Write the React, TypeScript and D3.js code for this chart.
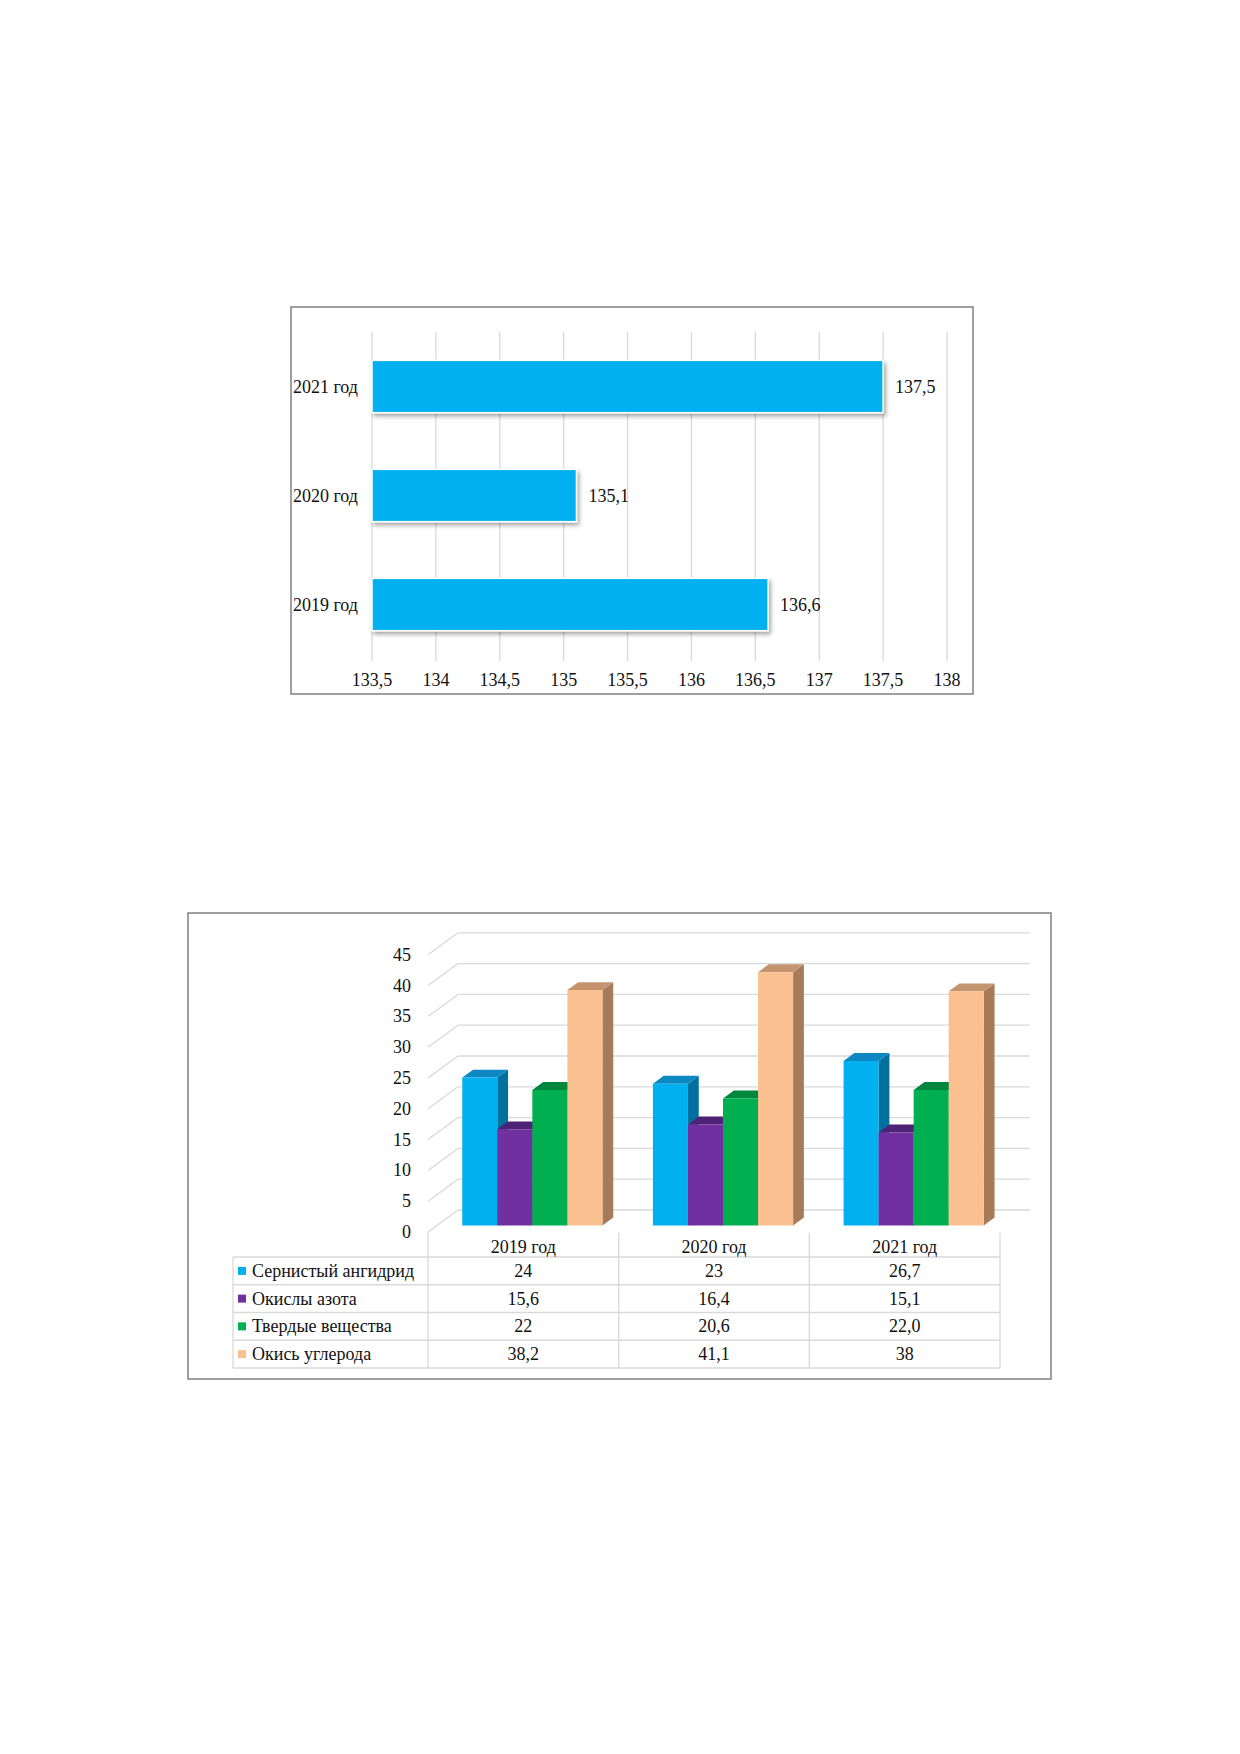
import React from "react";
import * as d3 from "d3";

// ---------- Chart 1 data ----------
const barYears = ["2021 год", "2020 год", "2019 год"];
const barValues = [137.5, 135.1, 136.6];
const barTicks = [133.5, 134, 134.5, 135, 135.5, 136, 136.5, 137, 137.5, 138];

// ---------- Chart 2 data ----------
const years = ["2019 год", "2020 год", "2021 год"];
const seriesNames = ["Сернистый ангидрид", "Окислы азота", "Твердые вещества", "Окись углерода"];
const sulfurValues = [24, 23, 26.7];
const nitrogenValues = [15.6, 16.4, 15.1];
const solidsValues = [22, 20.6, 22.0];
const carbonValues = [38.2, 41.1, 38];
const sulfurLabels = ["24", "23", "26,7"];
const nitrogenLabels = ["15,6", "16,4", "15,1"];
const solidsLabels = ["22", "20,6", "22,0"];
const carbonLabels = ["38,2", "41,1", "38"];
const yTicks = [0, 5, 10, 15, 20, 25, 30, 35, 40, 45];

const seriesValues = [sulfurValues, nitrogenValues, solidsValues, carbonValues];
const seriesLabels = [sulfurLabels, nitrogenLabels, solidsLabels, carbonLabels];
const seriesColors = [
  { front: "#00B0F0", top: "#0E88C2", side: "#00709F" },
  { front: "#7030A0", top: "#4E2276", side: "#4A1F6E" },
  { front: "#00B050", top: "#00873E", side: "#007836" },
  { front: "#FAC090", top: "#C4946F", side: "#A67B5A" },
];

const FONT = "'Liberation Serif', 'Times New Roman', serif";
const fmt = (v: number) => String(v).replace(".", ",");

function Chart1() {
  const x = d3.scaleLinear().domain([133.5, 138]).range([372, 947]);
  const y = d3.scaleBand<string>().domain(barYears).range([332, 659]).paddingInner(0.52).paddingOuter(0.26);
  return (
    <g>
      <rect x={291} y={307} width={682} height={387} fill="#fff" stroke="#808080" strokeWidth={1.5} />
      {barTicks.map((t) => (
        <line key={t} x1={x(t)} x2={x(t)} y1={332} y2={661} stroke="#D9D9D9" strokeWidth={1.3} />
      ))}
      {barYears.map((c, i) => (
        <g key={c}>
          <rect
            x={x(133.5)}
            y={y(c)!}
            width={x(barValues[i]) - x(133.5)}
            height={y.bandwidth()}
            fill="#00B0F0"
            stroke="#fff"
            strokeWidth={1.5}
            filter="url(#shadow)"
          />
          <text x={358} y={y(c)! + y.bandwidth() / 2} textAnchor="end" dominantBaseline="central" fontSize={18} fontFamily={FONT} fill="#111">
            {c}
          </text>
          <text x={x(barValues[i]) + 12} y={y(c)! + y.bandwidth() / 2} dominantBaseline="central" fontSize={18} fontFamily={FONT} fill="#111">
            {fmt(barValues[i])}
          </text>
        </g>
      ))}
      {barTicks.map((t) => (
        <text key={"l" + t} x={x(t)} y={680} textAnchor="middle" dominantBaseline="central" fontSize={18} fontFamily={FONT} fill="#111">
          {fmt(t)}
        </text>
      ))}
    </g>
  );
}

function Chart2() {
  const DX = 30;
  const DY = 22;
  const x = d3.scaleBand<string>().domain(years).range([428, 1000]).paddingInner(0).paddingOuter(0);
  const xs = d3.scaleBand<string>().domain(seriesNames).range([0, x.bandwidth()]).paddingInner(0).paddingOuter(0.72);
  const yv = d3.scaleLinear().domain([0, 45]).range([1232, 1232 - 45 * 6.16]);
  const px = (xf: number, d: number) => xf + d * DX;
  const py = (v: number, d: number) => yv(v) - d * DY;
  const d0 = 0.3;
  const d1 = 0.66;
  const tableTop = 1233;
  const headerBottom = 1257;
  const rowH = 27.75;
  const tableBottom = headerBottom + rowH * 4;
  const legendLeft = 233;

  const bars: JSX.Element[] = [];
  years.forEach((yr, ci) => {
    seriesNames.forEach((s, si) => {
      const v = seriesValues[si][ci];
      const c = seriesColors[si];
      const xl = x(yr)! + xs(s)!;
      const xr = xl + xs.bandwidth();
      const front = `M${px(xl, d0)},${py(0, d0)}L${px(xr, d0)},${py(0, d0)}L${px(xr, d0)},${py(v, d0)}L${px(xl, d0)},${py(v, d0)}Z`;
      const top = `M${px(xl, d0)},${py(v, d0)}L${px(xr, d0)},${py(v, d0)}L${px(xr, d1)},${py(v, d1)}L${px(xl, d1)},${py(v, d1)}Z`;
      const side = `M${px(xr, d0)},${py(0, d0)}L${px(xr, d1)},${py(0, d1)}L${px(xr, d1)},${py(v, d1)}L${px(xr, d0)},${py(v, d0)}Z`;
      bars.push(
        <g key={yr + s}>
          <path d={side} fill={c.side} />
          <path d={top} fill={c.top} />
          <path d={front} fill={c.front} />
        </g>
      );
    });
  });

  return (
    <g>
      <rect x={188} y={913} width={863} height={466} fill="#fff" stroke="#808080" strokeWidth={1.5} />
      {yTicks.map((t) => (
        <g key={t}>
          <line x1={px(428, 0)} y1={py(t, 0)} x2={px(428, 1)} y2={py(t, 1)} stroke="#D9D9D9" strokeWidth={1.3} />
          <line x1={px(428, 1)} y1={py(t, 1)} x2={px(1000, 1)} y2={py(t, 1)} stroke="#D9D9D9" strokeWidth={1.3} />
          <text x={411} y={yv(t)} textAnchor="end" dominantBaseline="central" fontSize={18} fontFamily={FONT} fill="#111">
            {t}
          </text>
        </g>
      ))}
      {bars}
      {/* data table */}
      {[428, ...years.map((yr) => x(yr)! + x.bandwidth())].map((xx, i) => (
        <line key={"v" + i} x1={xx} x2={xx} y1={i === 0 ? 1232 : tableTop} y2={tableBottom} stroke="#D9D9D9" strokeWidth={1.3} />
      ))}
      <line x1={legendLeft} x2={legendLeft} y1={headerBottom} y2={tableBottom} stroke="#D9D9D9" strokeWidth={1.3} />
      {[0, 1, 2, 3, 4].map((r) => (
        <line key={"h" + r} x1={legendLeft} x2={1000} y1={headerBottom + r * rowH} y2={headerBottom + r * rowH} stroke="#D9D9D9" strokeWidth={1.3} />
      ))}
      {years.map((yr) => (
        <text key={"hy" + yr} x={x(yr)! + x.bandwidth() / 2} y={1247} textAnchor="middle" dominantBaseline="central" fontSize={18} fontFamily={FONT} fill="#111">
          {yr}
        </text>
      ))}
      {seriesNames.map((s, si) => {
        const cy = headerBottom + si * rowH + rowH / 2;
        return (
          <g key={"row" + s}>
            <rect x={238} y={cy - 4} width={8} height={8} fill={seriesColors[si].front} />
            <text x={252} y={cy} dominantBaseline="central" fontSize={18} fontFamily={FONT} fill="#111">
              {s}
            </text>
            {years.map((yr, ci) => (
              <text key={yr} x={x(yr)! + x.bandwidth() / 2} y={cy} textAnchor="middle" dominantBaseline="central" fontSize={18} fontFamily={FONT} fill="#111">
                {seriesLabels[si][ci]}
              </text>
            ))}
          </g>
        );
      })}
    </g>
  );
}

export default function App() {
  return (
    <svg width={1240} height={1754} style={{ position: "absolute", left: 0, top: 0, background: "#fff" }}>
      <defs>
        <filter id="shadow" x="-5%" y="-20%" width="115%" height="160%">
          <feDropShadow dx={2} dy={3} stdDeviation={2} floodColor="#000" floodOpacity={0.35} />
        </filter>
      </defs>
      <rect x={0} y={0} width={1240} height={1754} fill="#fff" />
      <Chart1 />
      <Chart2 />
    </svg>
  );
}
